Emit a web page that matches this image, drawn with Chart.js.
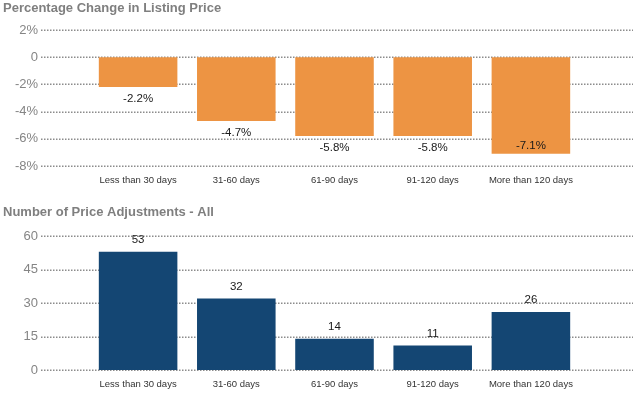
<!DOCTYPE html>
<html>
<head>
<meta charset="utf-8">
<script src="https://cdn.jsdelivr.net/npm/chart.js@4"></script>
<style>
  html, body { margin: 0; padding: 0; background: #fff; }
  .box { position: relative; width: 633px; height: 200px; }
</style>
</head>
<body>
<div class="box"><canvas id="pctChart"></canvas></div>
<div class="box"><canvas id="countChart"></canvas></div>
<script>
// --- données ---
const categories = ['Less than 30 days', '31-60 days', '61-90 days', '91-120 days', 'More than 120 days'];
const pctChange = [-2.2, -4.7, -5.8, -5.8, -7.1];
const adjustments = [53, 32, 14, 11, 26];
const pctTicks = [2, 0, -2, -4, -6, -8];
const countTicks = [60, 45, 30, 15, 0];

const ORANGE = '#ED9443';
const NAVY = '#144673';
const FONT = "'Liberation Sans', Arial, sans-serif";

// grille pointillée qui déborde de la zone du graphique
const dottedGrid = {
    id: 'dottedGrid',
    beforeDatasetsDraw(chart) {
        const ctx = chart.ctx;
        const y = chart.scales.y;
        ctx.save();
        ctx.strokeStyle = '#8c8c8c';
        ctx.lineWidth = 1.5;
        ctx.setLineDash([1.5, 1.5]);
        y.ticks.forEach(t => {
            const py = Math.round(y.getPixelForValue(t.value)) + 0.25;
            ctx.beginPath();
            ctx.moveTo(41, py);
            ctx.lineTo(633, py);
            ctx.stroke();
        });
        ctx.restore();
    }
};

// étiquettes de valeurs
const valueLabels = {
    id: 'valueLabels',
    afterDatasetsDraw(chart, args, opts) {
        const ctx = chart.ctx;
        const meta = chart.getDatasetMeta(0);
        const data = chart.data.datasets[0].data;
        ctx.save();
        ctx.font = '11.5px ' + FONT;
        ctx.fillStyle = '#1a1a1a';
        ctx.textAlign = 'center';
        ctx.textBaseline = 'middle';
        meta.data.forEach((bar, i) => {
            let y;
            if (opts.below) {
                y = bar.y + 12;
                if (y + 6 > chart.chartArea.bottom) y = bar.y - 8;
            } else {
                y = bar.y - 12;
            }
            ctx.fillText(opts.format(data[i]), bar.x, y);
        });
        ctx.restore();
    }
};

const pctFmt = v => v.toFixed(1) + '%';
const cntFmt = v => String(v);

// areaTop : haut de la zone de tracé ; titleTop : marge au-dessus du titre
function makeChart(id, values, color, ticks, titleText, titleTop, areaTop, areaBottom, fmt, below) {
    const min = Math.min(...ticks), max = Math.max(...ticks);
    const step = ticks[0] - ticks[1];
    return new Chart(document.getElementById(id), {
        type: 'bar',
        data: {
            labels: categories,
            datasets: [{ data: values, backgroundColor: color, barPercentage: 0.8, categoryPercentage: 1 }]
        },
        options: {
            responsive: true,
            maintainAspectRatio: false,
            animation: false,
            layout: { padding: { left: 3, right: 53, top: 0, bottom: 0 } },
            plugins: {
                legend: { display: false },
                tooltip: { enabled: false },
                title: {
                    display: true,
                    text: titleText,
                    align: 'start',
                    color: '#7f7f7f',
                    font: { family: FONT, size: 13, weight: 'bold', lineHeight: 1.2 },
                    padding: { top: titleTop, bottom: areaTop - titleTop - 15.6 }
                },
                valueLabels: { format: fmt, below: below }
            },
            scales: {
                x: {
                    grid: { display: false, drawTicks: false },
                    border: { display: false },
                    ticks: { color: '#333', font: { family: FONT, size: 9.5 }, padding: 9, maxRotation: 0, autoSkip: false },
                    afterFit(s) { s.height = 200 - areaBottom; s.paddingLeft = 0; s.paddingRight = 0; }
                },
                y: {
                    min: min, max: max,
                    grid: { display: false, drawTicks: false },
                    border: { display: false },
                    ticks: {
                        stepSize: step,
                        color: '#858585',
                        font: { family: FONT, size: 13 },
                        padding: 51,
                        callback: v => fmt === pctFmt ? (v === 0 ? '0' : v + '%') : v
                    },
                    afterFit(s) { s.width = 86; s.paddingTop = 0; s.paddingBottom = 0; }
                }
            }
        },
        plugins: [dottedGrid, valueLabels]
    });
}

makeChart('pctChart', pctChange, ORANGE, pctTicks, 'Percentage Change in Listing Price', 1, 30, 166, pctFmt, true);
makeChart('countChart', adjustments, NAVY, countTicks, 'Number of Price Adjustments - All', 5, 36, 170, cntFmt, false);
</script>
</body>
</html>
